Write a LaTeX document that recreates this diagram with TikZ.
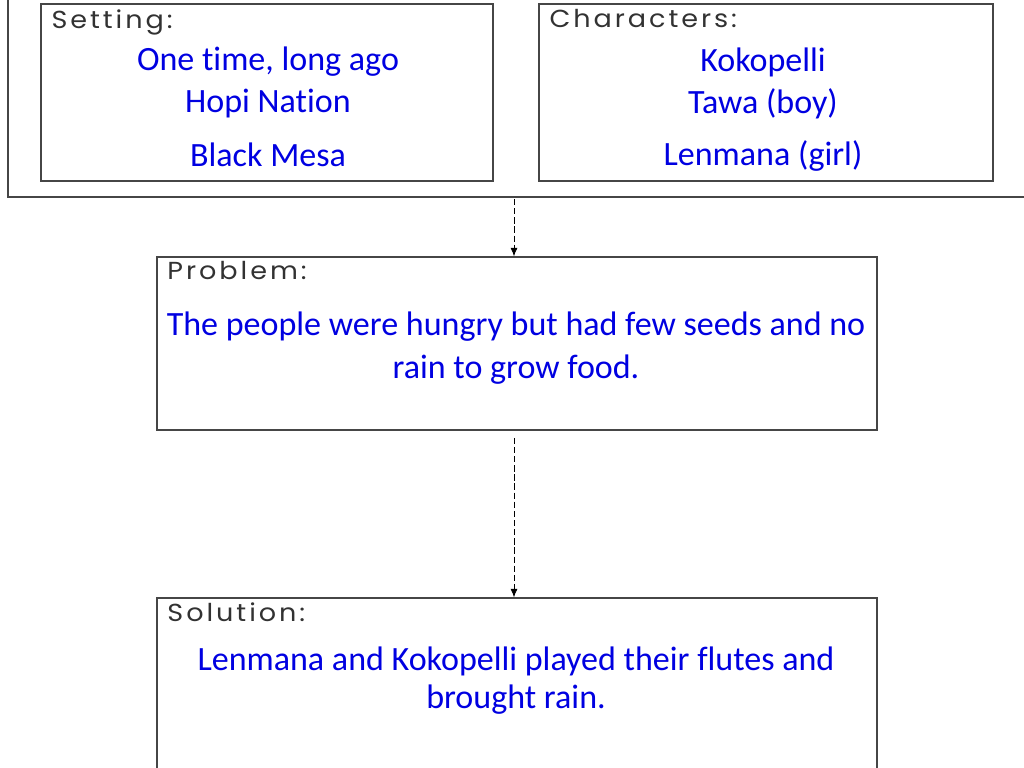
\documentclass[tikz,border=0pt]{standalone}
\usepackage{fontspec}
\setmainfont[Ligatures=NoCommon]{Carlito}
\newfontfamily\tagfont[LetterSpace=12,FakeStretch=1.1]{Poppins}
\usetikzlibrary{arrows.meta}
\definecolor{framegray}{RGB}{70,70,70}
\definecolor{tagtext}{RGB}{50,50,50}
\definecolor{storyblue}{RGB}{0,0,225}

\tikzset{
  storybox/.style={draw=framegray, line width=1pt, inner sep=0pt},
  tag/.style={anchor=north west, inner sep=0pt, text=tagtext, font=\tagfont\fontsize{17.5}{19}\selectfont},
  story/.style={text=storyblue, inner sep=0pt, align=center, font=\fontsize{24.2}{30.5}\selectfont},
  flow/.style={-{Latex[length=6pt,width=5pt]}, black, line width=0.5pt, dash pattern=on 4.5pt off 2pt}
}

\begin{document}
\begin{tikzpicture}[x=0.025cm,y=-0.025cm]
\clip (0,0) rectangle (1024,768);

% outer frame round setting and characters
\draw[framegray, line width=1pt] (8,-5) -- (8,197) -- (1030,197);
\coordinate (framebot) at (514,199);

% setting
\node[storybox, minimum width=11.3cm, minimum height=4.425cm] (setbox) at (267,92.5) {};
\node[tag] (settag) at ([shift={(11,6)}]setbox.north west) {Setting:};
\node[story] (set1) at (268,62) {One time, long ago};
\node[story] (set2) at (268,104) {Hopi Nation};
\node[story] (set3) at (268,155) {Black Mesa};

% characters
\node[storybox, minimum width=11.35cm, minimum height=4.425cm] (charbox) at (766,92.5) {};
\node[tag] (chartag) at ([shift={(11,6)}]charbox.north west) {Characters:};
\node[story] (char1) at (763,62) {Kokopelli};
\node[story] (char2) at (763,104) {Tawa (boy)};
\node[story] (char3) at (763,156) {Lenmana (girl)};

% problem
\node[storybox, minimum width=18cm, minimum height=4.325cm] (probbox) at (517,343.5) {};
\node[tag] (probtag) at ([shift={(11,5)}]probbox.north west) {Problem:};
\node[story] (prob) at (516,348) {The people were hungry but had few seeds and no\\rain to grow food.};

% solution
\node[storybox, minimum width=18cm, minimum height=5cm] (solbox) at (517,698) {};
\node[tag] (soltag) at ([shift={(11,5)}]solbox.north west) {Solution:};
\node[story, font=\fontsize{24.2}{27}\selectfont] (sol) at (516,681) {Lenmana and Kokopelli played their flutes and\\brought rain.};

% arrows
\draw[flow] (framebot) -- (framebot |- probbox.north);
\draw[flow, shorten <=5pt] (framebot |- probbox.south) -- (framebot |- solbox.north);
\end{tikzpicture}
\end{document}
